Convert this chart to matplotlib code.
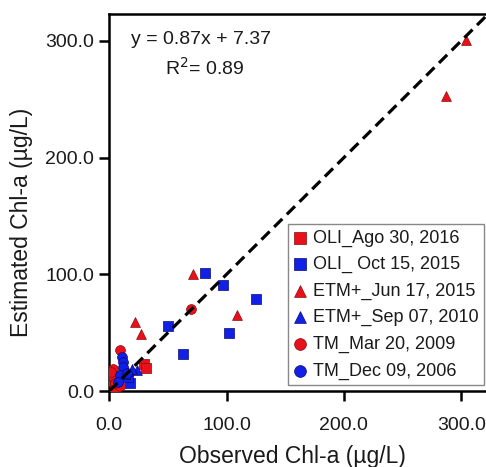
import matplotlib
matplotlib.use("Agg")
import matplotlib.pyplot as plt

plt.rcParams['font.family'] = ['Liberation Sans', 'DejaVu Sans']

# Data
oli_ago_x = [29.8, 31.3, 2.5, 5.0, 1.5]
oli_ago_y = [23.1, 20.0, 9.0, 3.5, 14.0]
oli_oct_x = [81.8, 96.7, 125.0, 49.8, 102.0, 63.1, 17.6, 16.2, 13.4]
oli_oct_y = [101.4, 90.8, 78.8, 55.7, 50.0, 31.4, 6.6, 12.3, 15.0]
etm_jun_x = [71.6, 21.9, 26.7, 108.6, 304.0, 286.8]
etm_jun_y = [100.0, 59.4, 48.6, 65.1, 300.8, 252.8]
etm_sep_x = [23.4, 19.5, 15.0]
etm_sep_y = [18.0, 19.0, 17.0]
tm_mar_x = [69.6, 9.1, 2.9, 3.4, 4.9, 9.1, 1.5]
tm_mar_y = [70.3, 35.1, 18.6, 12.3, 6.6, 4.3, 16.0]
tm_dec_x = [10.6, 11.4, 12.0, 9.1, 7.7, 14.8]
tm_dec_y = [29.4, 25.1, 21.0, 13.7, 8.0, 15.2]

labels = ["OLI_Ago 30, 2016", "OLI_ Oct 15, 2015", "ETM+_Jun 17, 2015",
          "ETM+_Sep 07, 2010", "TM_Mar 20, 2009", "TM_Dec 09, 2006"]
xticks = [0, 100, 200, 300]

RED = '#e8101a'
BLUE = '#1020e6'
RED_E = '#8a0a0a'
BLUE_E = '#0a0a70'
TXT = '#1a1a1a'

fig = plt.figure(figsize=(4.86, 4.67), dpi=100)
ax = fig.add_axes([0.2249, 0.1627, 0.7844, 0.8073])

series = [
    (oli_ago_x, oli_ago_y, 's', RED, RED_E),
    (oli_oct_x, oli_oct_y, 's', BLUE, BLUE_E),
    (etm_jun_x, etm_jun_y, '^', RED, RED_E),
    (etm_sep_x, etm_sep_y, '^', BLUE, BLUE_E),
    (tm_mar_x, tm_mar_y, 'o', RED, RED_E),
    (tm_dec_x, tm_dec_y, 'o', BLUE, BLUE_E),
]
handles = []
for (xs, ys, m, c, e), lab in zip(series, labels):
    h = ax.scatter(xs, ys, marker=m, s=50, facecolor=c, edgecolor=e,
                   linewidth=0.5, label=lab, zorder=3)
    handles.append(h)

ax.plot([0, 330], [0, 330], color='black', lw=2.3,
        linestyle=(0, (3.6, 2.0)), zorder=4)

ax.set_xlim(0, 325)
ax.set_ylim(0, 323)
ax.set_xticks(xticks)
ax.set_yticks(xticks)
ax.set_xticklabels([f"{v:.1f}" for v in xticks])
ax.set_yticklabels([f"{v:.1f}" for v in xticks])
ax.tick_params(direction='out', length=7, width=1.8, labelsize=14,
               color='black', labelcolor=TXT)
ax.tick_params(axis='x', pad=12)
ax.tick_params(axis='y', pad=4)
for s in ax.spines.values():
    s.set_linewidth(1.8)

ax.set_xlabel("Observed Chl-a (µg/L)", fontsize=16.5, color=TXT)
ax.set_ylabel("Estimated Chl-a (µg/L)", fontsize=16.5, color=TXT)
ax.xaxis.set_label_coords(0.48, -0.143)
ax.yaxis.set_label_coords(-0.2, 0.448)

ax.text(0.058, 0.955, "y = 0.87x + 7.37", transform=ax.transAxes,
        fontsize=14, va='top', ha='left', color=TXT)
ax.text(0.146, 0.885, "R$^2$= 0.89", transform=ax.transAxes,
        fontsize=14, va='top', ha='left', color=TXT)

leg = ax.legend(handles=handles, loc='lower right',
                bbox_to_anchor=(0.983, 0.016), borderaxespad=0,
                fontsize=13, frameon=True, fancybox=False, framealpha=1,
                edgecolor='#888888', handlelength=0.8, handletextpad=0.3,
                labelspacing=0.52, borderpad=0.3, markerscale=1.2,
                scatterpoints=1)
leg.get_frame().set_linewidth(1.0)
for t in leg.get_texts():
    t.set_color(TXT)

fig.savefig("out.png", dpi=100)
